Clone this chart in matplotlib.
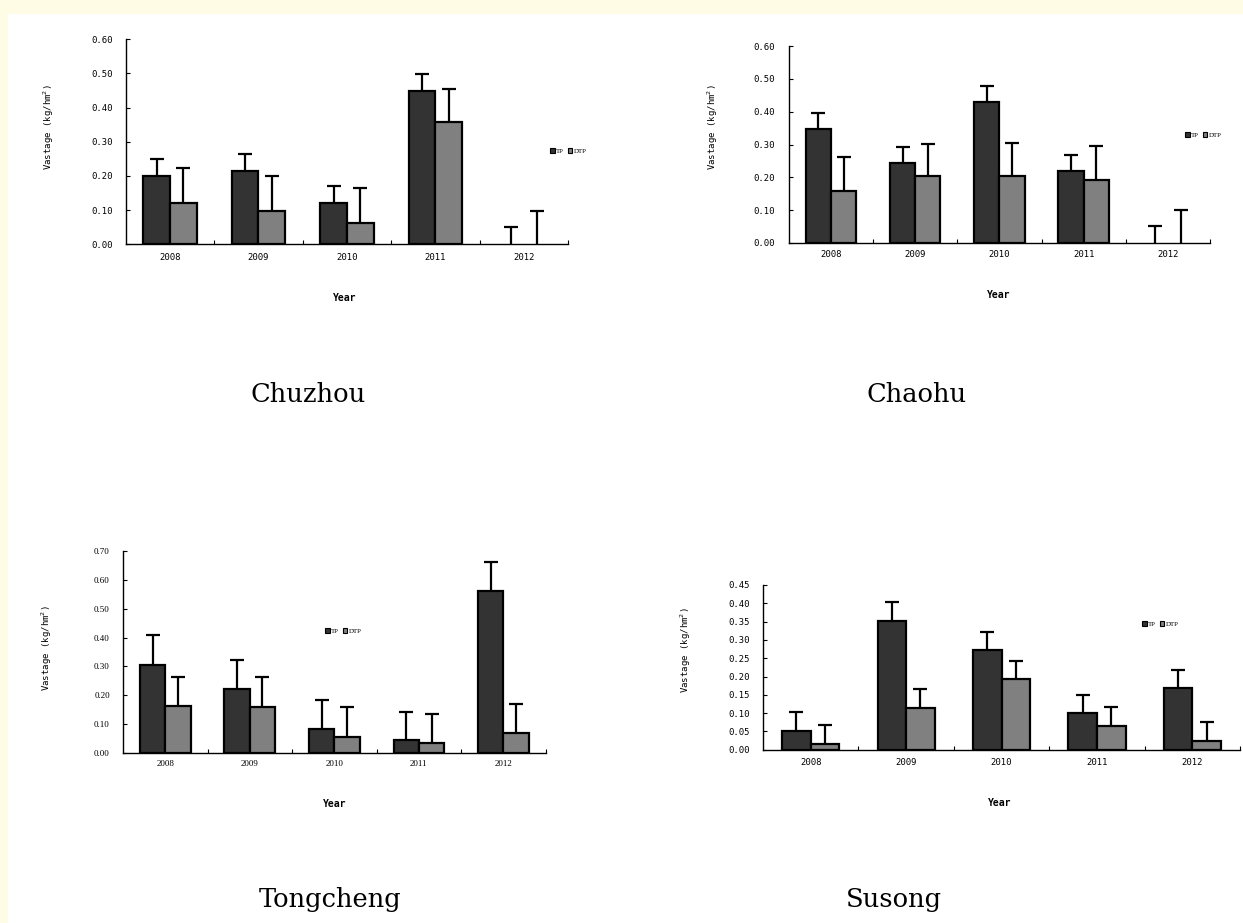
import matplotlib
matplotlib.use("Agg")
import matplotlib.pyplot as plt
from matplotlib.patches import Rectangle, Patch
import numpy as np

W, H = 1243, 923

years = ['2008', '2009', '2010', '2011', '2012']

chuzhou_tp = [0.200, 0.214, 0.120, 0.450, 0.000]
chuzhou_tp_err = [0.050, 0.051, 0.051, 0.047, 0.051]
chuzhou_dtp = [0.120, 0.098, 0.061, 0.359, 0.000]
chuzhou_dtp_err = [0.102, 0.102, 0.103, 0.097, 0.098]

chaohu_tp = [0.347, 0.243, 0.430, 0.218, 0.000]
chaohu_tp_err = [0.050, 0.048, 0.048, 0.050, 0.053]
chaohu_dtp = [0.158, 0.204, 0.204, 0.192, 0.000]
chaohu_dtp_err = [0.104, 0.098, 0.102, 0.103, 0.101]

tongcheng_tp = [0.305, 0.223, 0.083, 0.045, 0.561]
tongcheng_tp_err = [0.103, 0.099, 0.101, 0.098, 0.099]
tongcheng_dtp = [0.165, 0.159, 0.058, 0.037, 0.070]
tongcheng_dtp_err = [0.099, 0.105, 0.102, 0.098, 0.099]

susong_tp = [0.052, 0.353, 0.272, 0.099, 0.168]
susong_tp_err = [0.052, 0.051, 0.049, 0.051, 0.051]
susong_dtp = [0.016, 0.114, 0.192, 0.066, 0.025]
susong_dtp_err = [0.051, 0.051, 0.051, 0.051, 0.051]

TP_COLOR = '#333333'
DTP_COLOR = '#808080'
MONO = 'DejaVu Sans Mono'
SERIF = 'Liberation Serif'
TITLE_FONT = 'DejaVu Serif'

fig = plt.figure(figsize=(W / 100, H / 100), dpi=100)
fig.patch.set_facecolor('white')
border = '#fffce6'
fig.patches.append(Rectangle((0, 1 - 14 / H), 1, 14 / H, transform=fig.transFigure,
                             facecolor=border, edgecolor='none', zorder=0))
fig.patches.append(Rectangle((0, 0), 8 / W, 1, transform=fig.transFigure,
                             facecolor=border, edgecolor='none', zorder=0))


def px(x, y):
    return x / W, 1 - y / H


def upper_errorbar(ax, xs, vals, errs):
    z = np.zeros(len(vals))
    cont = ax.errorbar(xs, vals, yerr=[z, errs], fmt='none', ecolor='black',
                       elinewidth=1.6, capsize=5, capthick=1.6, zorder=1)
    caps = cont.lines[1]
    if len(caps) == 2:
        caps[0].set_visible(False)  # hide lower caps, keep upper ones
    return cont


def panel(rect_px, tp, tp_err, dtp, dtp_err, ymax, ystep, ylab_xy, year_xy, leg_xy,
          title, title_xy, tick_font=MONO, tick_size=6.4, ypad=9, xpad=6):
    l, t, r, b = rect_px
    ax = fig.add_axes([l / W, 1 - b / H, (r - l) / W, (b - t) / H])
    x = np.arange(len(years))
    w = 0.3
    lw_tp = [1.6 if v > 0 else 0 for v in tp]
    lw_dtp = [1.6 if v > 0 else 0 for v in dtp]
    ax.bar(x - w / 2, tp, w, color=TP_COLOR, edgecolor='black', linewidth=lw_tp, zorder=2)
    ax.bar(x + w / 2, dtp, w, color=DTP_COLOR, edgecolor='black', linewidth=lw_dtp, zorder=2)
    upper_errorbar(ax, x - w / 2, tp, tp_err)
    upper_errorbar(ax, x + w / 2, dtp, dtp_err)
    ax.set_xlim(-0.5, len(years) - 0.5)
    ax.set_ylim(0, ymax)
    for s in ['top', 'right']:
        ax.spines[s].set_visible(False)
    for s in ['left', 'bottom']:
        ax.spines[s].set_linewidth(1.0)
        ax.spines[s].set_color('black')
        ax.spines[s].set_zorder(4)
    yt = np.arange(0, ymax + 1e-9, ystep)
    ax.set_yticks(yt)
    ax.set_yticklabels(['%.2f' % v for v in yt], fontfamily=tick_font, fontsize=tick_size)
    ax.set_xticks(np.arange(len(years)) + 0.5)
    ax.set_xticklabels([])
    ax.set_xticks(x, minor=True)
    ax.set_xticklabels(years, minor=True, fontfamily=tick_font, fontsize=tick_size)
    ax.tick_params(axis='y', direction='in', length=3, width=0.8, pad=ypad)
    ax.tick_params(axis='x', which='major', direction='in', length=3, width=0.8)
    ax.tick_params(axis='x', which='minor', length=0, pad=xpad)
    ax.set_facecolor('none')

    fx, fy = px(*ylab_xy)
    fig.text(fx, fy, 'Vastage (kg/hm$^{2}$)', rotation=90, ha='center', va='center',
             fontfamily=MONO, fontsize=6.5)
    fx, fy = px(*year_xy)
    fig.text(fx, fy, 'Year', ha='center', va='center', fontfamily=MONO, fontsize=7,
             fontweight='bold')
    handles = [Patch(facecolor=TP_COLOR, edgecolor='black', linewidth=0.8, label='TP'),
               Patch(facecolor=DTP_COLOR, edgecolor='black', linewidth=0.8, label='DTP')]
    fx, fy = px(*leg_xy)
    ax.legend(handles=handles, loc='center', bbox_to_anchor=(fx, fy),
              bbox_transform=fig.transFigure, ncol=2, frameon=False,
              prop={'family': SERIF, 'size': 5}, handlelength=0.7, handleheight=0.7,
              handletextpad=0.15, columnspacing=0.6, borderpad=0, borderaxespad=0)
    fx, fy = px(*title_xy)
    fig.text(fx, fy, title, ha='center', va='center', fontfamily=TITLE_FONT, fontsize=18.5)
    return ax


panel((125.7, 39.3, 568.2, 244.3), chuzhou_tp, chuzhou_tp_err, chuzhou_dtp, chuzhou_dtp_err,
      0.60, 0.10, (49, 127), (345, 298), (568, 151), 'Chuzhou', (308, 394),
      ypad=9, xpad=6)
panel((788.8, 46, 1210, 243), chaohu_tp, chaohu_tp_err, chaohu_dtp, chaohu_dtp_err,
      0.60, 0.10, (713, 127), (999, 295), (1203, 135), 'Chaohu', (916.5, 394),
      ypad=10, xpad=5)
panel((123, 550.7, 545.7, 753.3), tongcheng_tp, tongcheng_tp_err, tongcheng_dtp,
      tongcheng_dtp_err, 0.70, 0.10, (47, 648), (335, 804), (343, 631), 'Tongcheng',
      (330, 899), tick_font=SERIF, tick_size=6.5, ypad=9.5, xpad=5)
panel((763.1, 585, 1240, 749.7), susong_tp, susong_tp_err, susong_dtp, susong_dtp_err,
      0.45, 0.05, (686, 650), (1000, 803), (1160, 624), 'Susong', (894, 899),
      ypad=9.7, xpad=6)

fig.savefig('out.png', dpi=100, facecolor=fig.get_facecolor())
